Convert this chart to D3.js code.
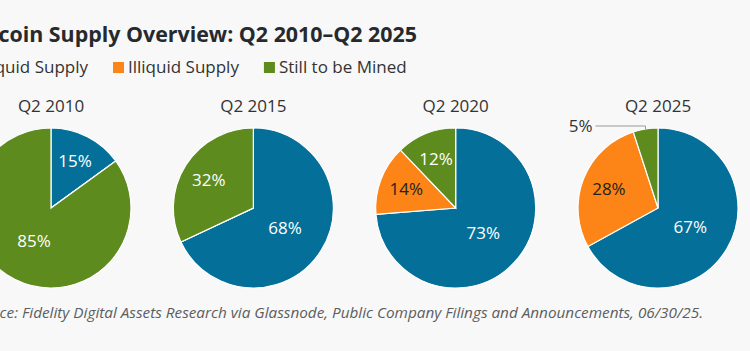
<!DOCTYPE html>
<html>
<head>
<meta charset="utf-8">
<script src="https://cdn.jsdelivr.net/npm/d3@7"></script>
<style>
  body { margin: 0; background: #f8f8f8; }
  svg { display: block; font-family: "Open Sans", sans-serif; }
</style>
</head>
<body>
<div id="chart"></div>
<script>
// data
var periods = ["Q2 2010", "Q2 2015", "Q2 2020", "Q2 2025"];
var categories = ["Liquid Supply", "Illiquid Supply", "Still to be Mined"];
var liquid = [15, 68, 73, 67];
var illiquid = [0, 0, 14, 28];
var toBeMined = [85, 32, 12, 5];
var colors = ["#04709a", "#fd8416", "#5e8b1e"];

var width = 750, height = 351, radius = 80;

var svg = d3.select("#chart")
    .append("svg")
    .attr("width", width)
    .attr("height", height)

svg.append("rect")
    .attr("width", width)
    .attr("height", height)
    .attr("fill", "#f8f8f8")

// title is cut off on the left in the original, so anchor it at its right end
svg.append("text")
    .attr("x", 417)
    .attr("y", 42)
    .attr("text-anchor", "end")
    .style("font-size", "21.4px")
    .style("font-weight", "bold")
    .style("fill", "#262a2e")
    .text("Bitcoin Supply Overview: Q2 2010\u2013Q2 2025");

// legend
var color = d3.scaleOrdinal().domain(categories).range(colors);
var legend = svg.append("g")
var lx = 0
var items = []
categories.forEach(function(c, i) {
    var g = legend.append("g")
    g.append("rect")
        .attr("y", 62)
        .attr("width", 11)
        .attr("height", 11)
        .attr("fill", color(c))
    var t = g.append("text")
        .attr("x", 15)
        .attr("y", 73)
        .style("font-size", "17px")
        .style("fill", "#333")
        .text(c)
    items.push({g: g, w: t.node().getComputedTextLength()})
})
// second swatch sits at x=113 in the reference
var gap = 25
lx = 113 - (15 + items[0].w + gap)
items.forEach(function(d) {
    d.g.attr("transform", "translate(" + lx + ",0)")
    lx += 15 + d.w + gap
})

// pies
var x = d3.scalePoint()
    .domain(periods)
    .range([51, 658])

var pie = d3.pie().sort(null).startAngle(0).endAngle(2 * Math.PI)
var arc = d3.arc().innerRadius(0).outerRadius(radius)

periods.forEach(function(p, i) {
    var vals = [liquid[i], illiquid[i], toBeMined[i]]
    var total = d3.sum(vals)
    var g = svg.append("g")
        .attr("transform", "translate(" + x(p) + ",208)")

    g.append("text")
        .attr("y", -96)
        .attr("text-anchor", "middle")
        .style("font-size", "17px")
        .style("fill", "#333")
        .text(p)

    var slices = pie(vals)
    g.selectAll("path")
        .data(slices)
        .enter()
        .append("path")
        .attr("d", arc)
        .attr("fill", function(d, j) { return colors[j] })
        .attr("stroke", "#fff")
        .attr("stroke-width", 1.2)

    slices.forEach(function(d, j) {
        if (d.value == 0) return
        var share = d.value / total
        var label = d.value + "%"
        if (share < 0.08) {
            // small slice: label outside with a leader line
            var pt = d3.arc().innerRadius(radius).outerRadius(radius).centroid(d)
            var ey = pt[1] - 3
            g.append("path")
                .attr("d", "M" + pt[0] + "," + pt[1] + "V" + ey + "H" + (pt[0] - 50))
                .attr("fill", "none")
                .attr("stroke", "#9a9a9a")
                .attr("stroke-width", 1)
            g.append("text")
                .attr("x", pt[0] - 53)
                .attr("y", ey + 6)
                .attr("text-anchor", "end")
                .style("font-size", "17px")
                .style("fill", "#333")
                .text(label)
            return
        }
        var r = share > 0.5 ? radius * 0.47 : radius * 0.66
        var c = d3.arc().innerRadius(r).outerRadius(r).centroid(d)
        g.append("text")
            .attr("x", c[0])
            .attr("y", c[1])
            .attr("dy", "0.35em")
            .attr("text-anchor", "middle")
            .style("font-size", "17px")
            .style("font-weight", "500")
            .style("fill", j == 1 ? "#222" : "#fff")
            .text(label)
    })
})

// source line
svg.append("text")
    .attr("x", 703)
    .attr("y", 318)
    .attr("text-anchor", "end")
    .style("font-size", "15.3px")
    .style("font-style", "italic")
    .style("fill", "#5b5e60")
    .text("Source: Fidelity Digital Assets Research via Glassnode, Public Company Filings and Announcements, 06/30/25.");
</script>
</body>
</html>
